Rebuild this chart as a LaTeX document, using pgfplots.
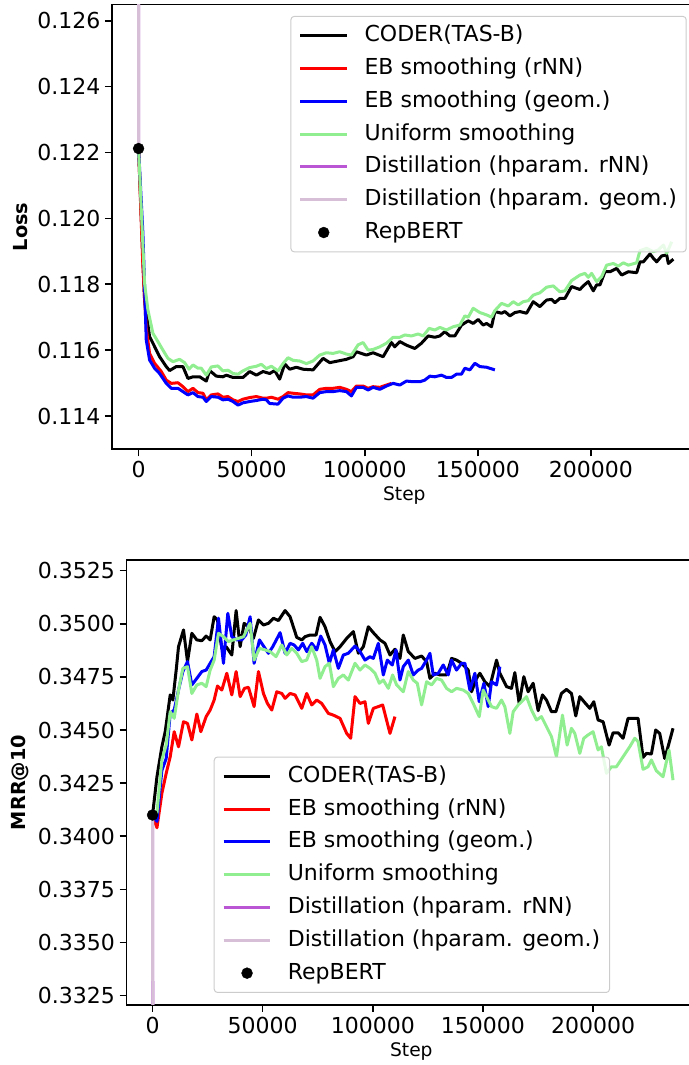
\documentclass[border=0pt]{standalone}
\usepackage{pgfplots}
\pgfplotsset{compat=1.18}
\usepackage{fontspec}
\setmainfont{DejaVu Sans}
\definecolor{lgreen}{RGB}{144,238,144}
\definecolor{morchid}{RGB}{186,85,211}
\definecolor{thistlec}{RGB}{216,191,216}
\pgfplotsset{
  mystyle/.style={
    scale only axis,
    axis line style={line width=1.2pt},
    tick align=outside,
    xtick pos=bottom, ytick pos=left,
    major tick length=5.25pt,
    tick style={line width=1.2pt, black},
    ticklabel style={font=\fontsize{16.5}{19.8}\selectfont},
    scaled x ticks=false, scaled y ticks=false,
    xmin=-11750, xmax=246750,
    xtick={0,50000,100000,150000,200000},
    xticklabels={0,50000,100000,150000,200000},
    xlabel={Step},
    xlabel style={font=\fontsize{14}{16}\selectfont},
    ylabel style={font=\fontsize{14.5}{17}\selectfont\bfseries},
    legend cell align=left,
    legend style={font=\fontsize{16.5}{19.8}\selectfont, draw=black!20, line width=0.75pt,
      fill=white, fill opacity=0.8, text opacity=1, draw opacity=1, rounded corners=2.5pt,
      inner xsep=6pt, inner ysep=5pt, row sep=5.6pt, column sep=11pt,
      nodes={inner sep=1pt, text height=13pt, text depth=4pt}},
    legend image code/.code={\draw[mark repeat=2,mark phase=2,#1] plot coordinates {(0pt,0pt) (17.5pt,0pt) (35pt,0pt)};},
    every axis plot/.append style={line width=2.25pt, line join=round},
  },
  dotstyle/.style={only marks, mark=*, mark size=4.1pt, black, mark options={line width=0.3pt, fill=black, draw=black, fill opacity=1, draw opacity=1}},
}
\begin{document}
\begin{tikzpicture}
\useasboundingbox (0,0) rectangle (516.75pt,798.75pt);
\clip (0,0) rectangle (516.75pt,798.75pt);
% ---------------- top: loss
\begin{axis}[mystyle, at={(84pt,461.8pt)}, anchor=south west, width=438.5pt, height=333.5pt,
  ymin=0.11299, ymax=0.12649,
  ytick={0.114,0.116,0.118,0.120,0.122,0.124,0.126},
  yticklabels={0.114,0.116,0.118,0.120,0.122,0.124,0.126},
  ylabel={Loss},
  legend style={at={(0.983,0.9746)}, anchor=north east}]
\addplot[black] coordinates {(0,0.12212) (2655,0.11752) (4868,0.11641) (6343,0.11621) (9293,0.11580) (12243,0.11550) (13718,0.11538) (16668,0.11550) (19618,0.11550) (21830,0.11514) (24043,0.11519) (26993,0.11519) (29943,0.11506) (31418,0.11538) (34368,0.11521) (37318,0.11519) (38793,0.11524) (41743,0.11517) (46168,0.11517) (49118,0.11535) (52068,0.11524) (55018,0.11535) (57968,0.11529) (60180,0.11538) (62393,0.11512) (64605,0.11558) (66818,0.11542) (69768,0.11548) (72718,0.11542) (77143,0.11540) (81568,0.11575) (84518,0.11562) (88943,0.11568) (91893,0.11572) (94843,0.11580) (96318,0.11595) (100743,0.11585) (103693,0.11592) (108118,0.11580) (111805,0.11623) (113280,0.11610) (115493,0.11626) (118443,0.11615) (122130,0.11605) (125080,0.11621) (128030,0.11643) (130980,0.11639) (133193,0.11643) (135405,0.11656) (137618,0.11643) (139830,0.11643) (142780,0.11676) (145730,0.11689) (147943,0.11681) (150155,0.11693) (152368,0.11676) (153843,0.11681) (156055,0.11671) (157530,0.11717) (160480,0.11712) (161955,0.11717) (164168,0.11704) (166380,0.11714) (168593,0.11717) (171543,0.11712) (174493,0.11747) (177443,0.11732) (180393,0.11752) (182605,0.11754) (184080,0.11744) (186293,0.11757) (188505,0.11757) (191455,0.11793) (195143,0.11784) (196618,0.11795) (198830,0.11808) (201043,0.11780) (202518,0.11798) (203993,0.11798) (206205,0.11838) (208418,0.11838) (211368,0.11848) (213580,0.11828) (216530,0.11838) (220218,0.11835) (221693,0.11868) (223168,0.11868) (226118,0.11892) (227593,0.11879) (229068,0.11868) (231280,0.11886) (233493,0.11889) (234230,0.11863) (236443,0.11876)};
\addlegendentry{CODER(TAS-B)}
\addplot[red] coordinates {(0,0.12212) (1918,0.11853) (3393,0.11666) (4868,0.11590) (7080,0.11560) (10030,0.11535) (12243,0.11509) (14455,0.11499) (17405,0.11501) (19618,0.11489) (21830,0.11474) (24043,0.11484) (26255,0.11471) (28468,0.11469) (29943,0.11449) (32155,0.11464) (35105,0.11467) (37318,0.11457) (39530,0.11459) (41743,0.11449) (43955,0.11444) (46168,0.11451) (49118,0.11456) (52068,0.11459) (55018,0.11454) (56493,0.11454) (58705,0.11457) (61655,0.11451) (63868,0.11459) (66080,0.11471) (68293,0.11469) (71243,0.11467) (74193,0.11464) (77143,0.11464) (80093,0.11481) (83043,0.11484) (85993,0.11484) (88943,0.11487) (91893,0.11481) (94105,0.11474) (96318,0.11491) (99268,0.11491) (101480,0.11484) (103693,0.11489) (106643,0.11487) (109593,0.11494) (111805,0.11499)};
\addlegendentry{EB smoothing (rNN)}
\addplot[blue] coordinates {(0,0.12212) (1918,0.11954) (3393,0.11631) (4868,0.11570) (7080,0.11545) (9293,0.11529) (12243,0.11499) (14455,0.11484) (17405,0.11484) (19618,0.11474) (21830,0.11464) (24043,0.11471) (26255,0.11459) (28468,0.11457) (29943,0.11444) (32155,0.11459) (35105,0.11457) (37318,0.11449) (39530,0.11451) (41743,0.11444) (43955,0.11433) (46168,0.11440) (49118,0.11444) (52068,0.11447) (55018,0.11451) (56493,0.11449) (57968,0.11438) (61655,0.11436) (63868,0.11454) (66080,0.11461) (68293,0.11457) (71243,0.11457) (74193,0.11459) (77143,0.11454) (80093,0.11471) (83043,0.11474) (85993,0.11474) (88943,0.11477) (91893,0.11474) (94105,0.11461) (96318,0.11487) (99268,0.11487) (101480,0.11479) (103693,0.11487) (106643,0.11481) (109593,0.11491) (112543,0.11499) (115493,0.11494) (118443,0.11506) (121393,0.11504) (124343,0.11504) (126555,0.11509) (128768,0.11521) (130980,0.11519) (133930,0.11524) (136143,0.11517) (138355,0.11517) (140568,0.11527) (142780,0.11527) (144255,0.11545) (146468,0.11540) (148680,0.11560) (150893,0.11550) (153843,0.11548) (157530,0.11540)};
\addlegendentry{EB smoothing (geom.)}
\addplot[lgreen] coordinates {(0,0.12212) (2655,0.11803) (4130,0.11722) (6343,0.11651) (8555,0.11626) (10768,0.11600) (12980,0.11575) (15193,0.11565) (18143,0.11572) (20355,0.11562) (22273,0.11542) (24043,0.11555) (26255,0.11545) (27730,0.11545) (29943,0.11524) (32155,0.11549) (35105,0.11552) (37318,0.11537) (39530,0.11539) (41743,0.11529) (43955,0.11527) (46168,0.11537) (49118,0.11547) (52068,0.11551) (54280,0.11557) (56493,0.11544) (58705,0.11551) (61655,0.11537) (63868,0.11559) (66080,0.11577) (68293,0.11569) (71243,0.11567) (74193,0.11559) (77143,0.11567) (80093,0.11585) (83043,0.11592) (85993,0.11590) (88943,0.11595) (91893,0.11588) (94105,0.11585) (97055,0.11616) (99268,0.11623) (101480,0.11600) (103693,0.11602) (106643,0.11610) (109593,0.11621) (112543,0.11639) (115493,0.11639) (117705,0.11646) (120655,0.11643) (123605,0.11649) (125818,0.11643) (128473,0.11666) (130980,0.11661) (133193,0.11669) (136143,0.11661) (139093,0.11671) (142043,0.11676) (144255,0.11704) (145730,0.11700) (147943,0.11727) (150893,0.11714) (153843,0.11707) (156055,0.11700) (157530,0.11720) (160480,0.11742) (163430,0.11734) (165643,0.11747) (167855,0.11737) (170068,0.11747) (172280,0.11750) (174493,0.11767) (177443,0.11774) (180393,0.11791) (183343,0.11795) (186293,0.11777) (188505,0.11780) (191455,0.11811) (195143,0.11828) (197355,0.11833) (198830,0.11821) (200305,0.11833) (202518,0.11808) (204730,0.11823) (206943,0.11858) (209893,0.11863) (212105,0.11855) (214318,0.11865) (216530,0.11858) (220218,0.11865) (221693,0.11902) (224643,0.11909) (227593,0.11899) (229805,0.11904) (232018,0.11919) (233493,0.11894) (235705,0.11929)};
\addlegendentry{Uniform smoothing}
\addplot[morchid] coordinates {(0,0.12212) (250,0.1400)};
\addlegendentry{Distillation (hparam. rNN)}
\addplot[thistlec] coordinates {(0,0.12212) (250,0.1400)};
\addlegendentry{Distillation (hparam. geom.)}
\addplot[dotstyle] coordinates {(0,0.12212)};
\addlegendentry{RepBERT}
\end{axis}
% ---------------- bottom: MRR@10
\begin{axis}[mystyle, at={(95pt,45pt)}, anchor=south west, width=427pt, height=333.75pt,
  ymin=0.33206, ymax=0.35300,
  ytick={0.3325,0.3350,0.3375,0.3400,0.3425,0.3450,0.3475,0.3500,0.3525},
  yticklabels={0.3325,0.3350,0.3375,0.3400,0.3425,0.3450,0.3475,0.3500,0.3525},
  ylabel={MRR@10},
  legend style={at={(0.849,0.027)}, anchor=south east}]
\addplot[black] coordinates {(0,0.3410) (2000,0.3428) (4234,0.34421) (5746,0.34492) (8014,0.34665) (9223,0.34641) (10735,0.34782) (11794,0.34892) (14062,0.34971) (15876,0.34822) (17842,0.34955) (20110,0.34924) (22378,0.34920) (24343,0.34942) (26158,0.34924) (27972,0.35033) (29484,0.35018) (31450,0.34884) (33415,0.34892) (35986,0.34853) (37951,0.35062) (39766,0.34892) (41580,0.35002) (43546,0.34986) (45814,0.34931) (48082,0.35018) (50350,0.34994) (52618,0.35002) (54886,0.35026) (57154,0.35015) (60178,0.35062) (62446,0.35033) (65470,0.34936) (67738,0.34924) (69250,0.34939) (71518,0.34947) (74239,0.34947) (76054,0.35030) (78322,0.34986) (80590,0.34916) (82858,0.34869) (85126,0.34892) (88150,0.34931) (91174,0.34963) (93442,0.34861) (95710,0.34892) (97978,0.34986) (100246,0.34958) (103270,0.34924) (105538,0.34908) (107806,0.34853) (110074,0.34880) (112342,0.34837) (113846,0.34947) (116114,0.34869) (119138,0.34837) (122162,0.34848) (124430,0.34822) (125942,0.34743) (128210,0.34767) (130478,0.34759) (133502,0.34759) (135770,0.34837) (138038,0.34829) (140306,0.34814) (143330,0.34782) (144842,0.34680) (147110,0.34743) (148622,0.34767) (150890,0.34727) (153158,0.34704) (156182,0.34829) (157694,0.34767) (160718,0.34704) (162986,0.34696) (164498,0.34770) (166464,0.34625) (168580,0.34751) (170546,0.34680) (172814,0.34720) (175082,0.34591) (177048,0.34665) (178862,0.34641) (181130,0.34586) (183096,0.34586) (185666,0.34672) (187934,0.34691) (190202,0.34672) (192168,0.34566) (193982,0.34657) (196250,0.34629) (198518,0.34602) (200332,0.34633) (202298,0.34547) (204566,0.34539) (207288,0.34429) (209102,0.34487) (211370,0.34487) (213638,0.34461) (215906,0.34555) (218174,0.34555) (220442,0.34555) (222710,0.34371) (224222,0.34390) (226490,0.34387) (228456,0.34500) (230270,0.34484) (232538,0.34366) (234050,0.34421) (236318,0.34508)};
\addlegendentry{CODER(TAS-B)}
\addplot[red] coordinates {(0,0.3410) (2000,0.3404) (4234,0.34202) (6199,0.34296) (8014,0.34374) (9828,0.34492) (11794,0.34421) (14062,0.34539) (15876,0.34531) (17842,0.34453) (20110,0.34575) (21924,0.34492) (24343,0.34563) (26158,0.34594) (27972,0.34641) (29484,0.34707) (31450,0.34688) (33718,0.34767) (35986,0.34665) (37951,0.34775) (39766,0.34657) (41731,0.34696) (43546,0.34701) (46116,0.34610) (48082,0.34775) (50350,0.34672) (52164,0.34625) (54130,0.34594) (56398,0.34680) (58666,0.34672) (60178,0.34649) (62446,0.34672) (64714,0.34665) (67738,0.34602) (70006,0.34672) (72274,0.34618) (74542,0.34641) (76810,0.34625) (79834,0.34578) (82102,0.34570) (85126,0.34555) (88150,0.34484) (89964,0.34461) (91930,0.34657) (94198,0.34625) (96466,0.34633) (97978,0.34531) (100246,0.34602) (102514,0.34610) (104480,0.34618) (107806,0.34484) (110074,0.34563)};
\addlegendentry{EB smoothing (rNN)}
\addplot[blue] coordinates {(0,0.3410) (2000,0.3407) (4234,0.3431) (6199,0.34366) (8014,0.34578) (9828,0.34594) (11794,0.34688) (13759,0.34775) (15876,0.34822) (17842,0.34712) (20110,0.34743) (22378,0.34775) (24343,0.34782) (26158,0.34814) (27972,0.34845) (29938,0.35026) (32206,0.34814) (34171,0.35049) (35986,0.34939) (38254,0.34924) (40522,0.34924) (42336,0.34947) (44302,0.35033) (46116,0.34814) (48535,0.34924) (51106,0.34884) (52618,0.34861) (54583,0.34892) (57910,0.34958) (60178,0.34861) (62446,0.34908) (64260,0.34900) (66226,0.34877) (68191,0.34908) (70006,0.34869) (72274,0.34908) (74542,0.34877) (76356,0.34942) (78322,0.34900) (80287,0.34814) (82102,0.34877) (84370,0.34790) (86638,0.34853) (88906,0.34861) (91930,0.34895) (94198,0.34869) (96466,0.34829) (98734,0.34845) (100246,0.34837) (102514,0.34908) (104782,0.34759) (106596,0.34829) (108864,0.34806) (110527,0.34877) (112342,0.34735) (113846,0.34798) (116114,0.34829) (118382,0.34759) (120650,0.34782) (122162,0.34790) (124430,0.34829) (125942,0.34861) (127454,0.34759) (129722,0.34767) (131990,0.34806) (134258,0.34759) (135770,0.34829) (138038,0.34782) (140306,0.34814) (141818,0.34814) (144086,0.34688) (146354,0.34767) (148320,0.34633) (150436,0.34720) (152402,0.34610) (153914,0.34727) (156182,0.34712) (157694,0.34798)};
\addlegendentry{EB smoothing (geom.)}
\addplot[lgreen] coordinates {(0,0.3410) (2000,0.3411) (4234,0.34359) (6199,0.3443) (8014,0.34586) (9828,0.34555) (11794,0.34688) (13759,0.34790) (15876,0.34798) (17842,0.34672) (20110,0.34712) (22378,0.34720) (24343,0.34704) (26158,0.34782) (27972,0.34829) (29938,0.34955) (32206,0.34939) (34474,0.34916) (36742,0.34924) (39010,0.34931) (41278,0.34939) (44302,0.35002) (46116,0.34829) (48535,0.34884) (51106,0.34877) (53374,0.34869) (56095,0.34845) (58666,0.34900) (60934,0.34853) (63202,0.34884) (65470,0.34861) (67738,0.34822) (70006,0.34829) (72274,0.34892) (74542,0.34829) (76054,0.34743) (78322,0.34798) (80287,0.34814) (82102,0.34704) (84370,0.34743) (86638,0.34759) (88906,0.34735) (91930,0.34814) (94198,0.34782) (96466,0.34806) (98734,0.34790) (101002,0.34767) (102968,0.34720) (104782,0.34735) (107050,0.34696) (109015,0.34759) (110830,0.34712) (113846,0.34680) (116114,0.34775) (118382,0.34735) (120196,0.34720) (122162,0.34618) (124430,0.34727) (126698,0.34712) (128966,0.34743) (131234,0.34735) (133502,0.34696) (135770,0.34680) (138038,0.34696) (141062,0.34688) (143330,0.34672) (145598,0.34625) (148320,0.34563) (150134,0.34688) (152402,0.34641) (153914,0.34610) (156182,0.34602) (158450,0.34641) (159962,0.34610) (162230,0.34484) (163742,0.34586) (166010,0.34618) (168278,0.34641) (169790,0.34657) (172058,0.34594) (174326,0.34547) (176594,0.34563) (178862,0.34516) (181130,0.34469) (183398,0.34374) (186120,0.34570) (188236,0.34429) (190202,0.34508) (191714,0.34484) (193982,0.34390) (195796,0.34461) (197762,0.34477) (200030,0.34492) (202298,0.34406) (203810,0.34421) (206078,0.34296) (208346,0.34327) (210614,0.34327) (213638,0.34374) (216662,0.34421) (218930,0.34461) (220442,0.34445) (222710,0.34315) (224978,0.34327) (226490,0.34359) (228758,0.34308) (231782,0.34280) (234504,0.34406) (236318,0.34264)};
\addlegendentry{Uniform smoothing}
\addplot[morchid] coordinates {(0,0.3410) (250,0.3200)};
\addlegendentry{Distillation (hparam. rNN)}
\addplot[thistlec] coordinates {(0,0.3410) (250,0.3200)};
\addlegendentry{Distillation (hparam. geom.)}
\addplot[dotstyle] coordinates {(0,0.3410)};
\addlegendentry{RepBERT}
\end{axis}
\end{tikzpicture}
\end{document}
